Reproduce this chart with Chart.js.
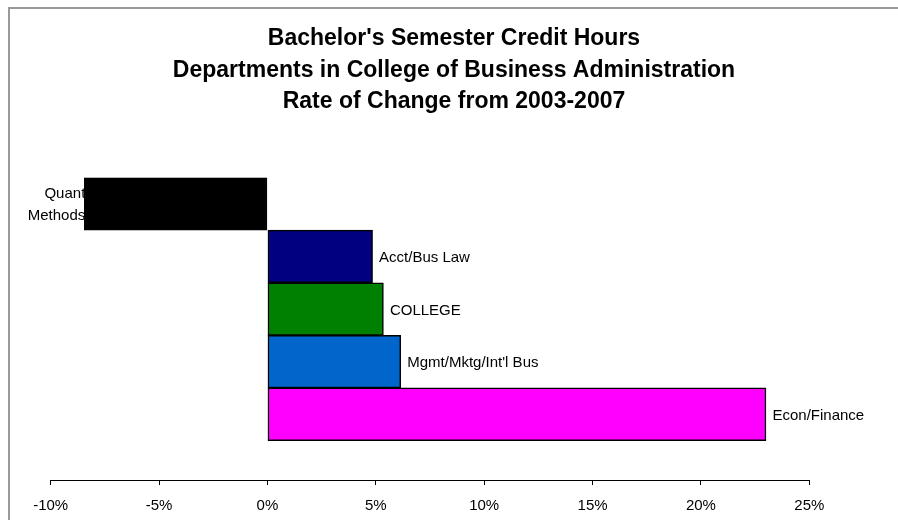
<!DOCTYPE html>
<html>
<head>
<meta charset="utf-8">
<script src="https://cdn.jsdelivr.net/npm/chart.js@4.4.1/dist/chart.umd.min.js"></script>
<style>
    html, body { margin: 0; padding: 0; background: #fff; overflow: hidden; }
    #frame { position: absolute; left: 8px; top: 7px; width: 1000px; height: 1000px; border-left: 2px solid #999; border-top: 2px solid #999; }
    #wrap { position: absolute; left: 0; top: 0; width: 898px; height: 520px; }
</style>
</head>
<body>
<div id="frame"></div>
<div id="wrap"><canvas id="chart" width="898" height="520"></canvas></div>
<script>
// Data
const categories = [['Quant', 'Methods'], 'Acct/Bus Law', 'COLLEGE', 'Mgmt/Mktg/Int\'l Bus', 'Econ/Finance'];
const changePct = [-8.45, 4.85, 5.35, 6.15, 23.0];
const barColors = ['#000000', '#000080', '#008000', '#0066cc', '#ff00ff'];
const titleLines = ['Bachelor\'s Semester Credit Hours', 'Departments in College of Business Administration', 'Rate of Change from 2003-2007'];
const xTicks = { min: -10, max: 25, step: 5 };

const FONT = 'Liberation Sans, Arial, Helvetica, sans-serif';

// Labels next to the bar ends, as Excel draws them
const barLabels = {
    id: 'barLabels',
    beforeDatasetsDraw(chart) {
        drawLabels(chart, true);
    },
    afterDatasetsDraw(chart) {
        drawLabels(chart, false);
    }
};

function drawLabels(chart, negatives) {
    const ctx = chart.ctx;
    const meta = chart.getDatasetMeta(0);
    ctx.save();
    ctx.font = '15px ' + FONT;
    ctx.fillStyle = '#000';
    ctx.textBaseline = 'middle';
    meta.data.forEach((bar, i) => {
        const v = changePct[i];
        if ((v < 0) !== negatives) return;
        const lines = Array.isArray(categories[i]) ? categories[i] : [categories[i]];
        const lh = 22;
        const y0 = bar.y + 1.5 - (lines.length - 1) * lh / 2;
        ctx.textAlign = v < 0 ? 'right' : 'left';
        const x = v < 0 ? bar.x + 1 : bar.x + 6.5;
        lines.forEach((t, k) => ctx.fillText(t, x, y0 + k * lh));
    });
    ctx.restore();
}

new Chart(document.getElementById('chart'), {
    type: 'bar',
    data: {
        datasets: [{
            data: changePct.map((v, i) => ({ x: v, y: i })),
            backgroundColor: barColors,
            borderColor: '#000',
            borderWidth: 1.5,
            borderSkipped: false,
            categoryPercentage: 1,
            barPercentage: 1,
            yAxisID: 'y'
        }]
    },
    options: {
        indexAxis: 'y',
        responsive: false,
        animation: false,
        layout: { padding: { left: 10, right: 0, top: 0, bottom: 2 } },
        plugins: {
            legend: { display: false },
            tooltip: { enabled: false },
            title: {
                display: true,
                text: titleLines,
                color: '#000',
                font: { family: FONT, size: 23, weight: 'bold', lineHeight: 1.37 },
                padding: { top: 23, bottom: 60 }
            }
        },
        scales: {
            x: {
                type: 'linear',
                min: xTicks.min,
                max: xTicks.max,
                afterFit: s => { s.height -= 9; },
                ticks: {
                    stepSize: xTicks.step,
                    padding: 12,
                    color: '#000',
                    font: { family: FONT, size: 15 },
                    callback: v => v + '%'
                },
                grid: { drawOnChartArea: false, tickLength: 5, tickColor: '#000' },
                border: { display: true, color: '#000', width: 1 }
            },
            y: {
                type: 'linear',
                reverse: true,
                offset: false,
                min: -0.5,
                max: 5.25,
                afterBuildTicks: s => {
                    s.ticks = changePct.map((v, i) => ({ value: i }));
                },
                afterFit: s => { s.width = 40.7; },
                ticks: { display: false },
                grid: { display: false },
                border: { display: false }
            },
            yRight: {
                type: 'linear',
                position: 'right',
                afterFit: s => { s.width = 88.7; },
                ticks: { display: false },
                grid: { display: false },
                border: { display: false }
            }
        }
    },
    plugins: [barLabels]
});
</script>
</body>
</html>
